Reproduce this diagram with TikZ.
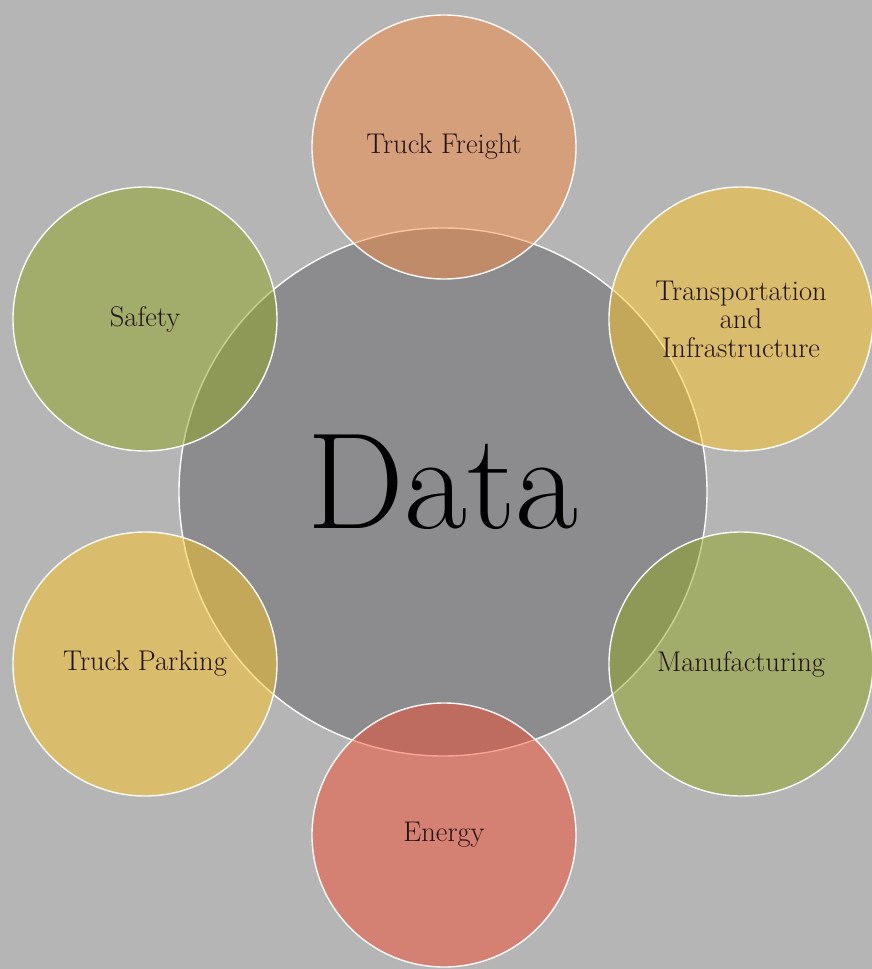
\documentclass[tikz,border=0pt]{standalone}
\definecolor{bg}{RGB}{181,181,181}
\definecolor{core}{RGB}{140,140,142}
\definecolor{cOrange}{RGB}{245,139,69}
\definecolor{cYellow}{RGB}{253,197,38}
\definecolor{cGreen}{RGB}{145,167,35}
\definecolor{cRed}{RGB}{243,77,51}
\definecolor{ink}{RGB}{35,18,18}
\tikzset{
  corecircle/.style={circle, minimum size=528pt, inner sep=0pt, draw=white, line width=1.4pt, fill=core},
  outer/.style={circle, minimum size=264pt, inner sep=0pt, draw=white, line width=1.4pt,
    fill opacity=0.5, draw opacity=0.95, text opacity=1, text=ink, align=center,
    font=\fontsize{28.5}{28.5}\selectfont},
}
\begin{document}
\begin{tikzpicture}[x=1pt,y=-1pt]
\fill[bg] (0,0) rectangle (872,969);
\useasboundingbox (0,0) rectangle (872,969);
\node[corecircle] (data) at (443,492) {};
\node[text=black, font=\fontsize{137}{137}\selectfont] (datalabel) at (443,482) {Data};
\node[outer, fill=cOrange] (tf) at (444,147) {Truck Freight};
\node[outer, fill=cYellow] (ti) at (741,319) {Transportation\\and\\Infrastructure};
\node[outer, fill=cGreen] (mf) at (741,664) {Manufacturing};
\node[outer, fill=cRed] (en) at (444,835) {Energy};
\node[outer, fill=cYellow] (tp) at (145,664) {Truck Parking};
\node[outer, fill=cGreen] (sf) at (145,319) {Safety};
\end{tikzpicture}
\end{document}
